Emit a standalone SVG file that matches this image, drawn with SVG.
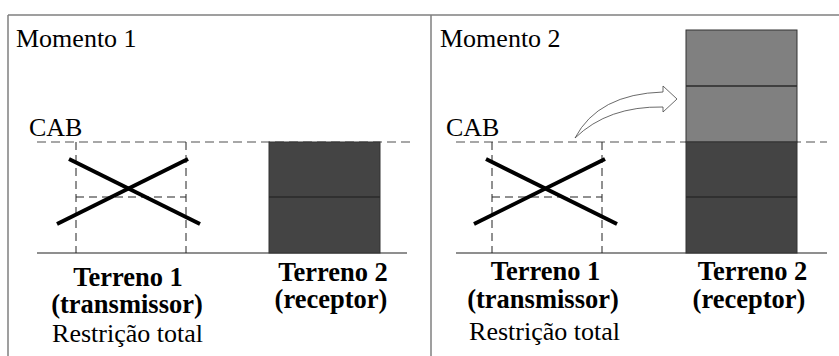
<svg xmlns="http://www.w3.org/2000/svg" width="839" height="356" viewBox="0 0 839 356">
<style>
.frame{stroke:#808080;stroke-width:1.5;fill:none}
.cab{stroke:#8a8a8a;stroke-width:1.5;stroke-dasharray:9 5;fill:none}
.ground{stroke:#6a6a6a;stroke-width:1.5;fill:none}
.box{stroke:#222;stroke-width:1;stroke-dasharray:8 5;fill:none}
.x{stroke:#000;stroke-width:4;stroke-linecap:butt}
.dark{fill:#444;stroke:#333;stroke-width:1}
.light{fill:#808080;stroke:#333;stroke-width:1}
.sep{stroke:#2a2a2a;stroke-width:1.5}
svg text{font-family:'Liberation Serif','Times New Roman',serif !important;fill:#000}
</style>
<g id="frame">
<path class="frame" d="M8,15 H839 M8,15 V356 M431,15 V356"/>
</g>
<g id="panel1">
<text x="16" y="47" style="font-family:'Liberation Serif',serif !important;font-size:26px">Momento 1</text>
<text x="29" y="136" style="font-family:'Liberation Serif',serif !important;font-size:26px">CAB</text>
<line class="cab" x1="37" y1="142" x2="415" y2="142"/>
<line class="ground" x1="37" y1="253" x2="407" y2="253"/>
<g id="terreno1a">
<path class="box" d="M76,142 V253 M186,142 V253 M76,197 H186"/>
<line class="x" x1="69" y1="159" x2="200" y2="224"/>
<line class="x" x1="188" y1="159" x2="57" y2="224"/>
<text x="128" y="286" text-anchor="middle" style="font-family:'Liberation Serif',serif !important;font-size:26.5px;font-weight:bold">Terreno 1</text>
<text x="127" y="313" text-anchor="middle" style="font-family:'Liberation Serif',serif !important;font-size:26.5px;font-weight:bold">(transmissor)</text>
<text x="127.5" y="342" text-anchor="middle" style="font-family:'Liberation Serif',serif !important;font-size:26px">Restrição total</text>
</g>
<g id="terreno2a">
<rect class="dark" x="269" y="142" width="111" height="111"/>
<line class="sep" x1="269" y1="197" x2="380" y2="197"/>
<text x="333" y="281" text-anchor="middle" style="font-family:'Liberation Serif',serif !important;font-size:26.5px;font-weight:bold">Terreno 2</text>
<text x="331" y="308" text-anchor="middle" style="font-family:'Liberation Serif',serif !important;font-size:26.5px;font-weight:bold">(receptor)</text>
</g>
</g>
<g id="panel2">
<text x="440" y="47" style="font-family:'Liberation Serif',serif !important;font-size:26px">Momento 2</text>
<text x="446" y="136" style="font-family:'Liberation Serif',serif !important;font-size:26px">CAB</text>
<line class="cab" x1="456" y1="142" x2="827" y2="142"/>
<line class="ground" x1="456" y1="253" x2="827" y2="253"/>
<g id="terreno1b">
<path class="box" d="M492,142 V253 M602,142 V253 M492,197 H602"/>
<line class="x" x1="486" y1="159" x2="617" y2="224"/>
<line class="x" x1="605" y1="159" x2="474" y2="224"/>
<text x="545.5" y="280" text-anchor="middle" style="font-family:'Liberation Serif',serif !important;font-size:26.5px;font-weight:bold">Terreno 1</text>
<text x="543" y="308" text-anchor="middle" style="font-family:'Liberation Serif',serif !important;font-size:26.5px;font-weight:bold">(transmissor)</text>
<text x="544.5" y="340" text-anchor="middle" style="font-family:'Liberation Serif',serif !important;font-size:26px">Restrição total</text>
</g>
<g id="terreno2b">
<rect class="light" x="686" y="30" width="111" height="112"/>
<rect class="dark" x="686" y="142" width="111" height="111"/>
<line class="sep" x1="686" y1="86" x2="797" y2="86"/>
<line class="sep" x1="686" y1="197" x2="797" y2="197"/>
<text x="752.5" y="280" text-anchor="middle" style="font-family:'Liberation Serif',serif !important;font-size:26.5px;font-weight:bold">Terreno 2</text>
<text x="749" y="308" text-anchor="middle" style="font-family:'Liberation Serif',serif !important;font-size:26.5px;font-weight:bold">(receptor)</text>
</g>
</g>
<g id="connectors">
<path d="M575,138 Q598,94 663,92 V86 L677,99 L663,112 V107 Q608,106 575,138 Z" fill="#fff" stroke="#444" stroke-width="0.8"/>
</g>
</svg>
